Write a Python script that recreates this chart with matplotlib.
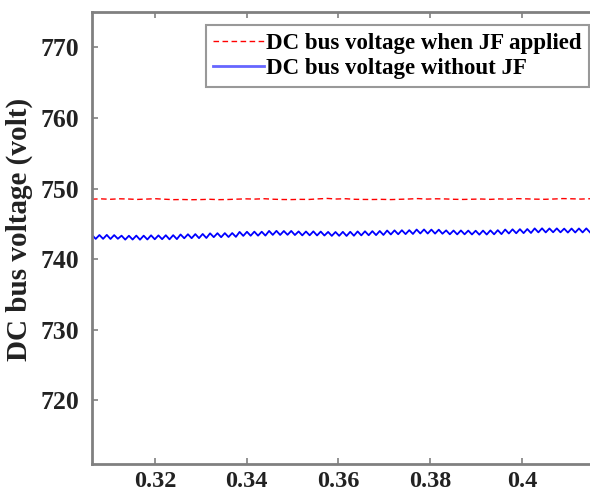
import numpy as np
import matplotlib
matplotlib.use("Agg")
import matplotlib.pyplot as plt

# time span of the plotted window (s)
t_start = 0.3063
t_end = 0.4148

# DC bus voltage without JF (peaks / troughs of the ripple)
v_without = [
    743.43, 742.87, 743.42, 742.88, 743.44, 742.86, 743.41, 742.89,
    743.33, 742.77, 743.32, 742.78, 743.34, 742.76, 743.33, 742.79,
    743.38, 742.82, 743.37, 742.83, 743.39, 742.81, 743.40, 742.84,
    743.50, 742.96, 743.53, 742.97, 743.55, 742.98, 743.57, 743.00,
    743.66, 743.12, 743.68, 743.11, 743.69, 743.14, 743.70, 743.16,
    743.86, 743.30, 743.88, 743.32, 743.90, 743.33, 743.89, 743.34,
    744.00, 743.44, 744.01, 743.43, 743.99, 743.45, 744.00, 743.42,
    743.93, 743.37, 743.92, 743.38, 743.94, 743.36, 743.91, 743.35,
    743.86, 743.30, 743.85, 743.31, 743.87, 743.29, 743.88, 743.32,
    743.93, 743.37, 743.95, 743.39, 743.97, 743.41, 743.99, 743.43,
    744.06, 743.50, 744.08, 743.53, 744.10, 743.55, 744.11, 743.57,
    744.20, 743.64, 744.21, 743.63, 744.19, 743.62, 744.18, 743.60,
    744.08, 743.52, 744.06, 743.51, 744.07, 743.52, 744.05, 743.50,
    744.03, 743.47, 744.05, 743.49, 744.08, 743.52, 744.11, 743.55,
    744.20, 743.64, 744.23, 743.67, 744.25, 743.69, 744.27, 743.71,
    744.36, 743.80, 744.37, 743.79, 744.35, 743.81, 744.36, 743.80,
    744.33, 743.77, 744.34, 743.78, 744.35, 743.79, 744.36, 743.80,
]

# DC bus voltage when JF applied
v_jf = [
    748.50, 748.54, 748.48, 748.55, 748.52, 748.46, 748.51, 748.56,
    748.49, 748.43, 748.45, 748.42, 748.44, 748.48, 748.43, 748.45,
    748.50, 748.54, 748.51, 748.56, 748.49, 748.45, 748.44, 748.47,
    748.46, 748.54, 748.60, 748.52, 748.56, 748.48, 748.46, 748.45,
    748.47, 748.44, 748.48, 748.52, 748.58, 748.51, 748.55, 748.53,
    748.48, 748.46, 748.49, 748.52, 748.47, 748.53, 748.50, 748.57,
    748.54, 748.50, 748.48, 748.52, 748.58, 748.55, 748.51, 748.56,
]

x_ticks = [0.32, 0.34, 0.36, 0.38, 0.40]
x_tick_labels = ["0.32", "0.34", "0.36", "0.38", "0.4"]
y_ticks = [720, 730, 740, 750, 760, 770]

t_without = np.linspace(t_start, t_end, len(v_without))
t_jf = np.linspace(t_start, t_end, len(v_jf))

serif = ["Liberation Serif", "DejaVu Serif"]
grey = "#808080"

fig = plt.figure(figsize=(5.9, 4.95), dpi=100)
ax = fig.add_axes([0.156, 0.0626, 0.844, 0.9132])

ax.plot(t_jf, v_jf, color="#ff0000", lw=1.0, ls=(0, (4, 2.5)),
        label="DC bus voltage when JF applied")
ax.plot(t_without, v_without, color="#0000ff", lw=1.3,
        label="DC bus voltage without JF")

ax.set_xlim(t_start, t_end)
ax.set_ylim(711, 775)
ax.set_xticks(x_ticks)
ax.set_xticklabels(x_tick_labels)
ax.set_yticks(y_ticks)

for lab in ax.get_yticklabels():
    lab.set_family(serif)
    lab.set_fontweight("bold")
    lab.set_fontsize(18.5)
    lab.set_color("#222222")
for lab in ax.get_xticklabels():
    lab.set_family(serif)
    lab.set_fontweight("bold")
    lab.set_fontsize(17.5)
    lab.set_color("#222222")

ax.tick_params(direction="in", length=4, width=1.2, color=grey, top=True)
ax.tick_params(axis="y", pad=9)
ax.tick_params(axis="x", pad=5)
ax.spines["right"].set_visible(False)
for s in ["left", "bottom", "top"]:
    ax.spines[s].set_color(grey)
    ax.spines[s].set_linewidth(2)

ax.set_ylabel("DC bus voltage (volt)", fontfamily=serif, fontsize=21,
              fontweight="bold", color="#222222")
ax.yaxis.set_label_coords(-0.118, 0.52)

leg = ax.legend(loc="upper right", bbox_to_anchor=(0.998, 0.971),
                prop={"family": serif, "weight": "bold", "size": 16.5},
                frameon=True, fancybox=False, handlelength=2.2,
                handletextpad=0.1, borderpad=0.33, labelspacing=0.2,
                borderaxespad=0)
leg.get_frame().set_edgecolor(grey)
leg.get_frame().set_linewidth(1.5)
leg.get_lines()[1].set_color("#6666ff")
leg.get_lines()[1].set_linewidth(2)

fig.savefig("out.png", dpi=100)
